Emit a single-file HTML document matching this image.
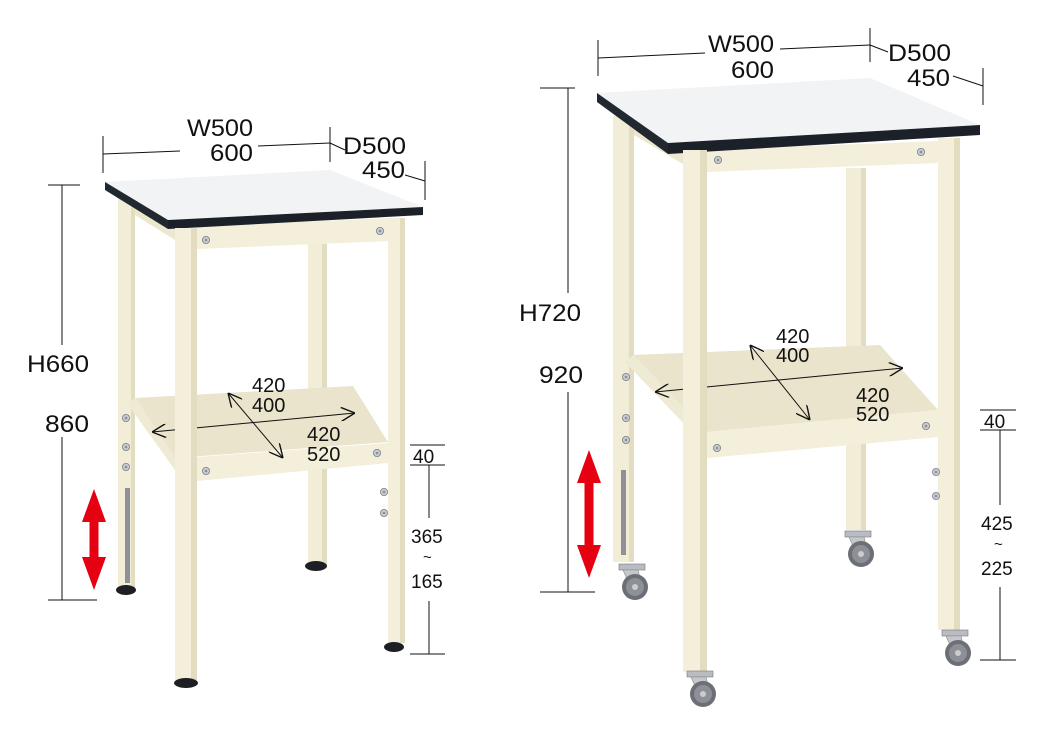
<!DOCTYPE html>
<html><head><meta charset="utf-8"><style>
html,body{margin:0;padding:0;background:#fff;}
svg{display:block;}
text{font-family:"Liberation Sans",sans-serif;fill:#111;}
</style></head><body>
<svg width="1050" height="730" viewBox="0 0 1050 730" xmlns="http://www.w3.org/2000/svg">
<defs>
<marker id="ah" viewBox="0 0 10 10" refX="10" refY="5" markerWidth="14" markerHeight="14" orient="auto-start-reverse" markerUnits="userSpaceOnUse"><path d="M0,0 L10,5 L0,10" fill="none" stroke="#111" stroke-width="1"/></marker>
<g id="screw"><circle r="3.6" fill="#c9ccd2" stroke="#7c8088" stroke-width="0.8"/><circle r="1.3" fill="#8a8e96"/></g>
<g id="caster">
<rect x="-13" y="-4" width="26" height="6" fill="#b9bcc2" stroke="#777" stroke-width="0.6"/>
<path d="M-9,2 L6,2 L10,18 L-2,18 Z" fill="#c4c7cc" stroke="#888" stroke-width="0.6"/>
<circle cx="3" cy="19" r="13" fill="#6c6f76"/>
<circle cx="3" cy="19" r="9" fill="#8d9097"/>
<circle cx="3" cy="19" r="3" fill="#ccc"/>
</g>
</defs>

<!-- ================= LEFT TABLE ================= -->
<rect x="118" y="198" width="17" height="392" fill="#f1edd6"/>
<rect x="131" y="198" width="4" height="392" fill="#e2ddc0"/>
<rect x="125" y="488" width="5" height="95" fill="#8d9097"/>
<ellipse cx="126" cy="590" rx="10" ry="5" fill="#1d1f24"/>
<rect x="308" y="240" width="19" height="325" fill="#f1edd6"/>
<rect x="322" y="240" width="5" height="325" fill="#e2ddc0"/>
<ellipse cx="316" cy="566" rx="11" ry="5" fill="#1d1f24"/>
<!-- shelf -->
<polygon points="135,398 353,386 388,442 175,458" fill="#e9e4cb"/>
<polygon points="127,403 135,398 175,458 175,470" fill="#efead3"/>
<polygon points="197,457 388,443 388,463 197,481" fill="#f3efdb"/>
<line x1="152" y1="432" x2="355" y2="413" stroke="#111" stroke-width="1" marker-start="url(#ah)" marker-end="url(#ah)"/>
<line x1="228" y1="393" x2="283" y2="458" stroke="#111" stroke-width="1" marker-start="url(#ah)" marker-end="url(#ah)"/>
<text x="252" y="392" font-size="20">420</text>
<text x="252" y="412" font-size="20">400</text>
<text x="307" y="441" font-size="20">420</text>
<text x="307" y="461" font-size="20">520</text>
<!-- apron -->
<polygon points="135,205 175,228 175,240 135,215" fill="#ece7cf"/>
<polygon points="197,226 390,218 390,241 197,249" fill="#f3efdb"/>
<!-- tabletop -->
<polygon points="105,182 330,170 423,207 168,220" fill="#f2f3f5"/>
<polygon points="105,182 168,220 168,229 105,190" fill="#222830"/>
<polygon points="168,220 423,207 423,215 168,229" fill="#1c2129"/>
<!-- front legs -->
<rect x="175" y="228" width="22" height="452" fill="#f3efdb"/>
<rect x="191" y="228" width="6" height="452" fill="#e2ddc0"/>
<ellipse cx="186" cy="683" rx="12" ry="5" fill="#1d1f24"/>
<rect x="388" y="218" width="17" height="425" fill="#f3efdb"/>
<rect x="400" y="218" width="5" height="425" fill="#e2ddc0"/>
<ellipse cx="394" cy="647" rx="10" ry="5" fill="#1d1f24"/>
<use href="#screw" x="206" y="240"/><use href="#screw" x="380" y="231"/>
<use href="#screw" x="206" y="471"/><use href="#screw" x="377" y="453"/>
<use href="#screw" x="126" y="418"/><use href="#screw" x="126" y="447"/><use href="#screw" x="126" y="467"/>
<use href="#screw" x="384" y="492"/><use href="#screw" x="384" y="513"/>

<g stroke="#111" stroke-width="1" fill="none">
<line x1="103" y1="136" x2="103" y2="173"/>
<line x1="103" y1="154" x2="180" y2="151"/>
<line x1="258" y1="146" x2="330" y2="143"/>
<line x1="330" y1="127" x2="330" y2="162"/>
<line x1="330" y1="143" x2="345" y2="150"/>
<line x1="405" y1="175" x2="425" y2="181"/>
<line x1="425" y1="161" x2="425" y2="200"/>
<line x1="48" y1="185" x2="80" y2="185"/>
<line x1="62" y1="185" x2="62" y2="345"/>
<line x1="62" y1="437" x2="62" y2="600"/>
<line x1="48" y1="600" x2="97" y2="600"/>
<line x1="410" y1="445" x2="445" y2="445"/>
<line x1="410" y1="465" x2="445" y2="465"/>
<line x1="429" y1="465" x2="429" y2="518"/>
<line x1="429" y1="601" x2="429" y2="654"/>
<line x1="410" y1="654" x2="445" y2="654"/>
</g>
<text x="187" y="136" font-size="24" textLength="66" lengthAdjust="spacingAndGlyphs">W500</text>
<text x="210" y="161" font-size="24" textLength="43" lengthAdjust="spacingAndGlyphs">600</text>
<text x="343" y="154" font-size="24" textLength="63" lengthAdjust="spacingAndGlyphs">D500</text>
<text x="362" y="178" font-size="24" textLength="43" lengthAdjust="spacingAndGlyphs">450</text>
<text x="27" y="372" font-size="24" textLength="62" lengthAdjust="spacingAndGlyphs">H660</text>
<text x="45" y="432" font-size="24" textLength="44" lengthAdjust="spacingAndGlyphs">860</text>
<text x="413" y="463" font-size="19">40</text>
<text x="411" y="543" font-size="19">365</text>
<text x="423" y="562" font-size="15">~</text>
<text x="411" y="588" font-size="19">165</text>
<polygon points="94,489 106,522 98.5,522 98.5,557 106,557 94,590 82,557 89.5,557 89.5,522 82,522" fill="#e50012"/>

<!-- ================= RIGHT TABLE ================= -->
<rect x="613" y="116" width="21" height="446" fill="#f1edd6"/>
<rect x="629" y="116" width="5" height="446" fill="#e2ddc0"/>
<rect x="621" y="470" width="5" height="85" fill="#8d9097"/>
<use href="#caster" x="632" y="568"/>
<rect x="846" y="168" width="20" height="362" fill="#f1edd6"/>
<rect x="861" y="168" width="5" height="362" fill="#e2ddc0"/>
<use href="#caster" x="858" y="535"/>
<!-- shelf -->
<polygon points="633,355 880,345 938,410 707,432" fill="#e9e4cb"/>
<polygon points="625,362 633,355 707,432 707,448" fill="#efead3"/>
<polygon points="707,432 938,410 938,437 707,458" fill="#f3efdb"/>
<line x1="655" y1="392" x2="903" y2="368" stroke="#111" stroke-width="1" marker-start="url(#ah)" marker-end="url(#ah)"/>
<line x1="750" y1="345" x2="810" y2="420" stroke="#111" stroke-width="1" marker-start="url(#ah)" marker-end="url(#ah)"/>
<text x="776" y="343" font-size="20">420</text>
<text x="776" y="362" font-size="20">400</text>
<text x="856" y="402" font-size="20">420</text>
<text x="856" y="421" font-size="20">520</text>
<!-- apron -->
<polygon points="634,125 683,152 683,164 634,135" fill="#ece7cf"/>
<polygon points="705,150 938,141 938,163 705,172" fill="#f3efdb"/>
<!-- tabletop -->
<polygon points="597,93 870,78 980,125 668,143" fill="#f2f3f5"/>
<polygon points="597,93 668,143 668,154 597,102" fill="#222830"/>
<polygon points="668,143 980,125 980,135 668,154" fill="#1c2129"/>
<!-- front legs -->
<rect x="683" y="150" width="24" height="522" fill="#f3efdb"/>
<rect x="700" y="150" width="7" height="522" fill="#e2ddc0"/>
<use href="#caster" x="700" y="675"/>
<rect x="938" y="138" width="22" height="492" fill="#f3efdb"/>
<rect x="954" y="138" width="6" height="492" fill="#e2ddc0"/>
<use href="#caster" x="955" y="634"/>
<use href="#screw" x="718" y="160"/><use href="#screw" x="921" y="152"/>
<use href="#screw" x="717" y="448"/><use href="#screw" x="926" y="426"/>
<use href="#screw" x="626" y="377"/><use href="#screw" x="626" y="418"/><use href="#screw" x="626" y="440"/>
<use href="#screw" x="936" y="472"/><use href="#screw" x="936" y="496"/>

<g stroke="#111" stroke-width="1" fill="none">
<line x1="598" y1="40" x2="598" y2="76"/>
<line x1="598" y1="58" x2="705" y2="53"/>
<line x1="780" y1="49" x2="870" y2="45"/>
<line x1="870" y1="28" x2="870" y2="62"/>
<line x1="870" y1="45" x2="888" y2="52"/>
<line x1="953" y1="76" x2="983" y2="86"/>
<line x1="983" y1="68" x2="983" y2="105"/>
<line x1="540" y1="88" x2="575" y2="88"/>
<line x1="568" y1="88" x2="568" y2="293"/>
<line x1="568" y1="392" x2="568" y2="592"/>
<line x1="540" y1="592" x2="595" y2="592"/>
<line x1="980" y1="410" x2="1016" y2="410"/>
<line x1="980" y1="430" x2="1016" y2="430"/>
<line x1="1000" y1="430" x2="1000" y2="505"/>
<line x1="1000" y1="587" x2="1000" y2="660"/>
<line x1="980" y1="660" x2="1016" y2="660"/>
</g>
<text x="708" y="52" font-size="24" textLength="66" lengthAdjust="spacingAndGlyphs">W500</text>
<text x="731" y="78" font-size="24" textLength="43" lengthAdjust="spacingAndGlyphs">600</text>
<text x="888" y="61" font-size="24" textLength="63" lengthAdjust="spacingAndGlyphs">D500</text>
<text x="907" y="86" font-size="24" textLength="43" lengthAdjust="spacingAndGlyphs">450</text>
<text x="519" y="321" font-size="24" textLength="62" lengthAdjust="spacingAndGlyphs">H720</text>
<text x="539" y="383" font-size="24" textLength="44" lengthAdjust="spacingAndGlyphs">920</text>
<text x="984" y="428" font-size="19">40</text>
<text x="981" y="530" font-size="19">425</text>
<text x="994" y="549" font-size="15">~</text>
<text x="981" y="575" font-size="19">225</text>
<polygon points="589,450 601,483 593.5,483 593.5,545 601,545 589,578 577,545 584.5,545 584.5,483 577,483" fill="#e50012"/>
</svg>
</body></html>
